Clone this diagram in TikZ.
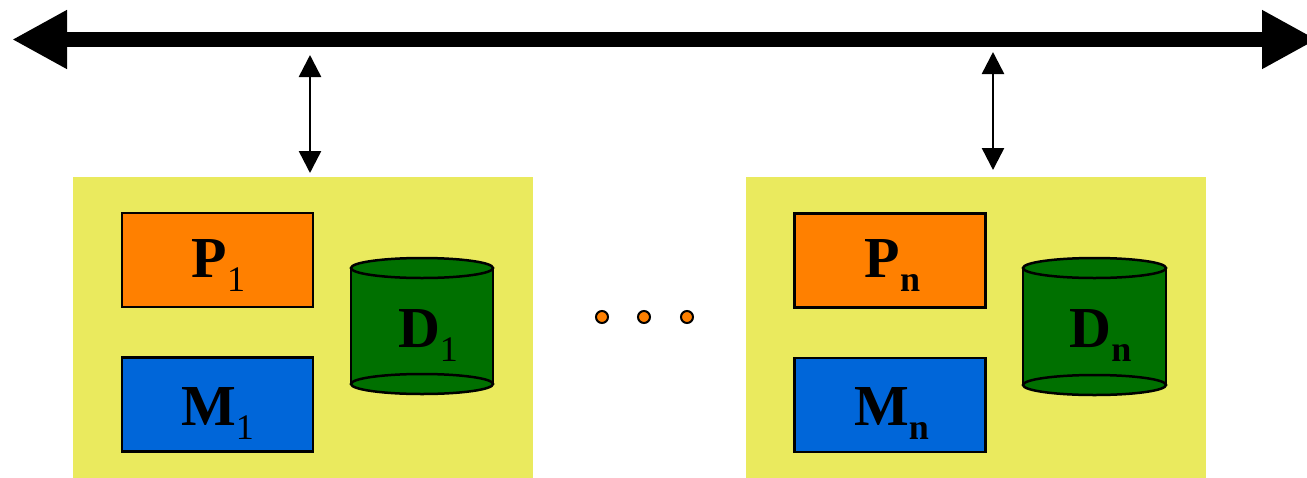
\documentclass[tikz,border=0pt]{standalone}
\usepackage{fontspec}
\setmainfont{Liberation Serif}
\usetikzlibrary{arrows.meta}
\definecolor{ybg}{RGB}{234,234,94}
\definecolor{porange}{RGB}{255,128,0}
\definecolor{mblue}{RGB}{0,102,217}
\definecolor{dgreen}{RGB}{0,112,0}
\newcommand\subtxt[1]{\raisebox{-14pt}{\fontsize{36}{40}\selectfont #1}}
\tikzset{
  ybox/.style={fill=ybg, inner sep=0pt, minimum width=460pt, minimum height=303pt},
  pbox/.style={fill=porange, draw=black, line width=2.4pt, inner sep=0pt, minimum width=191pt, minimum height=94pt},
  mbox/.style={fill=mblue, draw=black, line width=2.4pt, inner sep=0pt, minimum width=191pt, minimum height=94pt},
  lbl/.style={anchor=base, inner sep=0pt, font=\fontsize{58}{60}\selectfont\bfseries},
  dotnode/.style={circle, fill=porange, draw=black, line width=2pt, inner sep=0pt, minimum size=12pt},
  bus/.style={line width=15pt, {Triangle[length=55pt,width=55pt]}-{Triangle[length=55pt,width=55pt]}},
  sarrow/.style={line width=2.5pt, {Triangle[length=22pt,width=22pt]}-{Triangle[length=22pt,width=22pt]}},
  cylline/.style={draw=black, line width=2.5pt}
}
\newcommand\cyl[4]{% cx, top y, bottom y, half width
  \fill[dgreen] (#1-#4,#2) rectangle (#1+#4,#3);
  \filldraw[fill=dgreen, cylline] (#1,#3) ellipse [x radius=#4, y radius=10];
  \draw[cylline] (#1-#4,#2) -- (#1-#4,#3) (#1+#4,#2) -- (#1+#4,#3);
  \filldraw[fill=dgreen, cylline] (#1,#2) ellipse [x radius=#4, y radius=10];
}
\begin{document}
\begin{tikzpicture}[x=1pt, y=-1pt]
\useasboundingbox (0,0) rectangle (1307,477);
\clip (0,0) rectangle (1307,477);
% bus
\coordinate (busL) at (12,39.5);
\coordinate (busR) at (1317,39.5);
\draw[bus] (busL) -- (busR);
% node groups
\node[ybox] (g1) at (303,328.5) {};
\node[ybox] (g2) at (976,328.5) {};
\node[pbox] (p1) at (217.5,260) {};
\node[mbox] (m1) at (217.5,404.5) {};
\node[pbox] (pn) at (890,260.5) {};
\node[mbox] (mn) at (890,405) {};
\cyl{422}{268}{384}{71}
\cyl{1094.5}{268}{385}{71.5}
\node[lbl] (tp1) at (218.5,277) {P\subtxt{\mdseries 1}};
\node[lbl] (tm1) at (217.5,425) {M\subtxt{\mdseries 1}};
\node[lbl] (td1) at (428,347) {D\subtxt{\mdseries 1}};
\node[lbl] (tpn) at (892.5,277) {P\subtxt{n}};
\node[lbl] (tmn) at (891.5,425) {M\subtxt{n}};
\node[lbl] (tdn) at (1100.5,347) {D\subtxt{n}};
% dots
\node[dotnode] (dot1) at (602,317) {};
\node[dotnode] (dot2) at (644,317) {};
\node[dotnode] (dot3) at (687,317) {};
% small arrows
\coordinate (a1t) at (310,55);
\coordinate (a1b) at (310,173);
\coordinate (a2t) at (993,52);
\coordinate (a2b) at (993,170);
\draw[sarrow] (a1t) -- (a1b);
\draw[sarrow] (a2t) -- (a2b);
\end{tikzpicture}
\end{document}
